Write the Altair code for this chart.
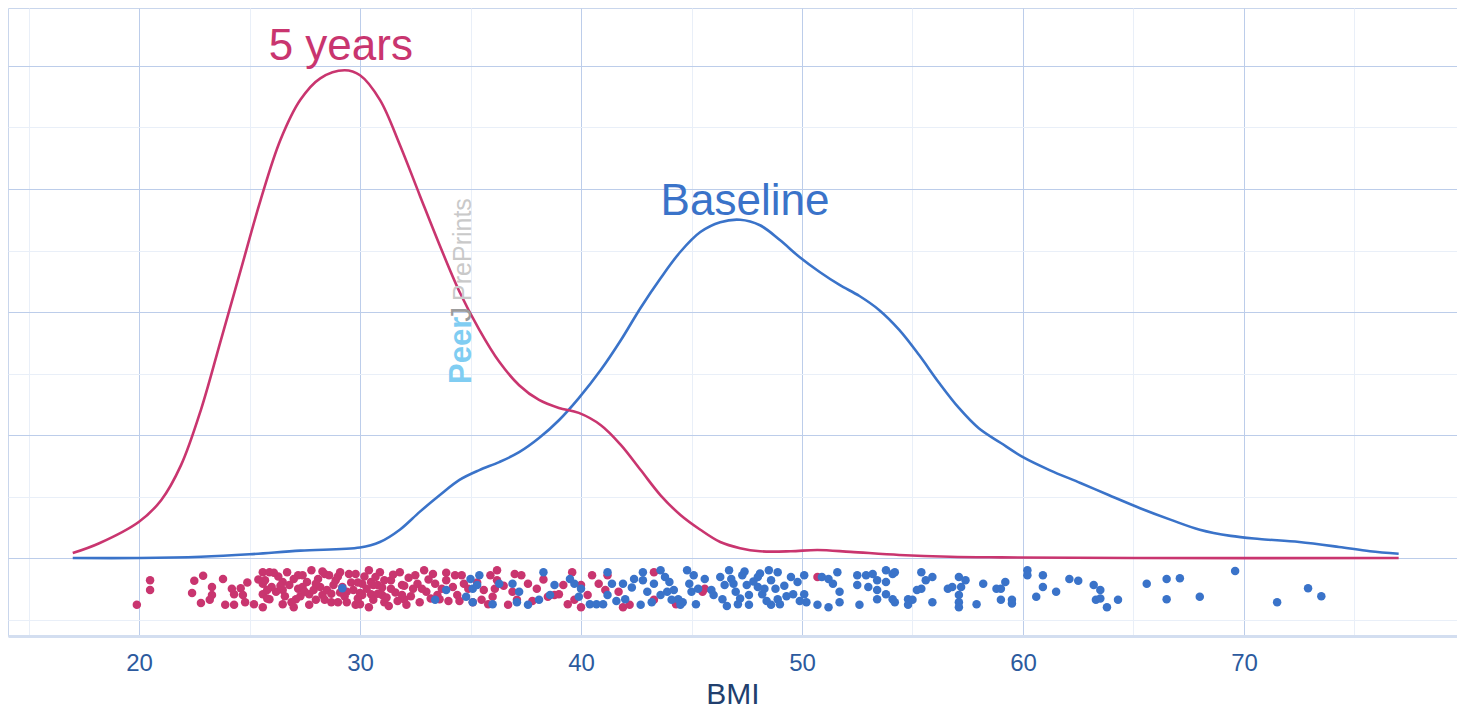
import altair as alt
import pandas as pd

RED = "#c9356f"
BLUE = "#3a73c9"
GRID_MAJ = "#bccdea"
GRID_MIN = "#e9eff8"
FONT = "Liberation Sans, Arial, sans-serif"

# ---- density curves (density in %) ----
curve_bmi_5y = [17.0, 18.2, 20.0, 21.0, 21.9, 22.8, 23.7, 24.6, 25.5, 26.4,
                27.3, 28.2, 29.3, 30.0, 30.9, 31.8, 32.7, 33.6, 34.5, 35.4,
                36.3, 37.2, 38.1, 39.0, 39.9, 40.9, 41.8, 42.7, 43.6, 44.5,
                45.4, 46.3, 47.2, 48.1, 49.5, 50.7, 52.2, 54.4, 56.7, 59.0,
                65.0, 77.0]
curve_den_5y = [0.08, 0.24, 0.59, 0.94, 1.51, 2.41, 3.54, 4.68, 5.82, 6.80,
                7.45, 7.80, 7.93, 7.85, 7.45, 6.72, 5.90, 5.09, 4.33, 3.71,
                3.19, 2.81, 2.57, 2.44, 2.36, 2.16, 1.84, 1.43, 1.02, 0.70,
                0.46, 0.26, 0.16, 0.11, 0.11, 0.13, 0.10, 0.05, 0.02, 0.01,
                0.0, 0.0]

curve_bmi_base = [17.0, 20.0, 22.8, 25.0, 27.3, 30.0, 30.9, 31.8, 32.7, 33.6,
                  34.5, 35.4, 36.3, 37.2, 38.1, 39.0, 39.9, 40.9, 41.8, 42.7,
                  43.6, 44.5, 45.4, 46.3, 47.2, 48.1, 49.0, 49.9, 50.8, 51.7,
                  52.6, 53.5, 54.4, 55.3, 56.2, 57.1, 58.0, 59.0, 60.0, 61.2,
                  62.6, 63.9, 65.3, 66.7, 68.0, 69.4, 70.7, 72.5, 74.3, 75.7,
                  77.0]
curve_den_base = [0.0, 0.0, 0.02, 0.06, 0.12, 0.17, 0.26, 0.46, 0.75, 1.02,
                  1.27, 1.43, 1.56, 1.72, 1.95, 2.24, 2.60, 3.06, 3.54, 4.07,
                  4.55, 4.98, 5.30, 5.46, 5.50, 5.41, 5.17, 4.89, 4.65, 4.44,
                  4.26, 4.03, 3.71, 3.30, 2.85, 2.44, 2.11, 1.87, 1.64, 1.43,
                  1.22, 1.02, 0.81, 0.62, 0.46, 0.36, 0.31, 0.26, 0.18, 0.11,
                  0.07]

# ---- individual observations: (BMI, vertical jitter) ----
points_5y = [
    (19.9, -0.76), (20.5, -0.36), (20.5, -0.52), (22.5, -0.37), (22.9, -0.29),
    (22.4, -0.57), (23.3, -0.47), (23.3, -0.60), (22.8, -0.73), (23.2, -0.68),
    (23.8, -0.34), (23.9, -0.76), (24.3, -0.76), (24.3, -0.59), (24.6, -0.49),
    (24.7, -0.60), (24.8, -0.72), (25.2, -0.75), (25.6, -0.80), (25.6, -0.59),
    (25.6, -0.42), (25.6, -0.23), (25.9, -0.23), (25.9, -0.67), (25.7, -0.36),
    (26.5, -0.39), (26.5, -0.52), (26.5, -0.75), (26.7, -0.23), (26.8, -0.44),
    (27.1, -0.67), (27.2, -0.28), (26.2, -0.55), (26.0, -0.47), (27.0, -0.34),
    (26.9, -0.72), (25.8, -0.52), (27.2, -0.50), (26.3, -0.30), (24.2, -0.50),
    (27.4, -0.28), (27.4, -0.47), (27.8, -0.20), (27.7, -0.59), (28.0, -0.68),
    (28.4, -0.26), (28.3, -0.60), (28.6, -0.28), (28.8, -0.44), (28.7, -0.72),
    (29.1, -0.23), (29.0, -0.72), (29.5, -0.26), (29.4, -0.55), (29.8, -0.26),
    (29.8, -0.76), (30.1, -0.42), (30.1, -0.60), (30.0, -0.75), (30.4, -0.20),
    (30.5, -0.39), (30.5, -0.59), (30.9, -0.23), (30.8, -0.44), (31.0, -0.60),
    (31.1, -0.72), (31.4, -0.50), (31.4, -0.36), (31.8, -0.23), (31.9, -0.44),
    (32.0, -0.67), (32.1, -0.76), (32.4, -0.50), (32.9, -0.20), (33.0, -0.55),
    (33.3, -0.26), (33.4, -0.42), (33.5, -0.60), (33.6, -0.67), (33.9, -0.36),
    (34.2, -0.47), (34.3, -0.28), (34.4, -0.60), (34.6, -0.28), (34.7, -0.42),
    (35.1, -0.72), (27.6, -0.39), (27.9, -0.52), (28.1, -0.34), (28.2, -0.47),
    (28.5, -0.52), (28.4, -0.68), (28.9, -0.36), (29.2, -0.47), (29.3, -0.62),
    (29.6, -0.40), (29.7, -0.52), (29.9, -0.66), (30.2, -0.30), (30.3, -0.50),
    (30.6, -0.68), (30.7, -0.31), (31.0, -0.48), (31.2, -0.64), (31.5, -0.27),
    (31.6, -0.56), (31.7, -0.70), (32.2, -0.32), (32.3, -0.62), (32.6, -0.42),
    (32.7, -0.72), (33.1, -0.35), (27.3, -0.62), (27.7, -0.76), (28.0, -0.42),
    (29.0, -0.30), (30.0, -0.57), (31.3, -0.78), (32.5, -0.28), (33.7, -0.50),
    (34.0, -0.70), (34.9, -0.50), (35.5, -0.68), (35.9, -0.28), (36.2, -0.20),
    (36.2, -0.36), (36.1, -0.50), (36.0, -0.63), (35.6, -0.52), (37.0, -0.26),
    (36.9, -0.55), (36.7, -0.76), (37.3, -0.28), (37.6, -0.42), (38.0, -0.50),
    (38.5, -0.63), (38.8, -0.60), (39.0, -0.59), (39.2, -0.44), (39.6, -0.23),
    (40.0, -0.44), (40.0, -0.80), (39.7, -0.68), (40.5, -0.28), (40.8, -0.42),
    (41.1, -0.52), (41.2, -0.28), (41.7, -0.55), (41.9, -0.80), (42.2, -0.76),
    (37.1, -0.68), (43.3, -0.23), (43.3, -0.68), (45.6, -0.50), (45.5, -0.55),
    (44.3, -0.75), (50.7, -0.31), (25.4, -0.35), (25.8, -0.66), (26.1, -0.24),
    (26.6, -0.62), (27.0, -0.80), (27.5, -0.55), (28.3, -0.22), (28.7, -0.58),
    (29.4, -0.72), (29.9, -0.40), (30.4, -0.80), (30.8, -0.58), (31.1, -0.36),
    (31.9, -0.60), (32.8, -0.50), (33.2, -0.66), (33.9, -0.24), (34.5, -0.70),
    (35.3, -0.40), (35.8, -0.75), (36.5, -0.45), (37.8, -0.70), (38.3, -0.35),
    (39.4, -0.75), (40.3, -0.60), (26.4, -0.45), (29.1, -0.56), (30.6, -0.44),
    (32.0, -0.45), (24.9, -0.40),
]

points_base = [
    (29.2, -0.49), (33.9, -0.52), (33.4, -0.68), (34.8, -0.63), (35.0, -0.34),
    (35.1, -0.50), (35.4, -0.28), (35.3, -0.44), (35.1, -0.72), (36.3, -0.42),
    (36.9, -0.42), (37.2, -0.55), (37.1, -0.72), (37.6, -0.76), (38.3, -0.23),
    (38.1, -0.68), (38.8, -0.44), (39.5, -0.34), (39.7, -0.42), (39.9, -0.63),
    (40.4, -0.75), (40.7, -0.75), (41.0, -0.75), (41.2, -0.23), (41.4, -0.42),
    (41.2, -0.60), (41.9, -0.42), (42.0, -0.67), (42.4, -0.34), (42.7, -0.76),
    (42.8, -0.23), (42.8, -0.36), (43.0, -0.55), (36.0, -0.75), (38.6, -0.60),
    (40.0, -0.50), (41.6, -0.70), (42.3, -0.48), (43.6, -0.20), (43.3, -0.42),
    (43.8, -0.31), (44.0, -0.39), (43.9, -0.55), (44.2, -0.52), (44.4, -0.67),
    (44.6, -0.72), (44.5, -0.76), (44.8, -0.20), (45.1, -0.28), (44.9, -0.42),
    (45.0, -0.55), (45.3, -0.50), (45.2, -0.75), (45.9, -0.52), (46.3, -0.31),
    (46.7, -0.20), (46.5, -0.44), (46.4, -0.67), (46.8, -0.34), (47.0, -0.55),
    (47.1, -0.75), (47.3, -0.28), (47.5, -0.44), (47.6, -0.60), (47.6, -0.76),
    (48.0, -0.31), (48.0, -0.47), (48.2, -0.59), (48.5, -0.20), (48.6, -0.36),
    (48.6, -0.76), (48.9, -0.23), (48.9, -0.67), (48.8, -0.50), (49.5, -0.31),
    (49.8, -0.39), (49.6, -0.59), (50.1, -0.28), (50.1, -0.59), (50.2, -0.72),
    (50.7, -0.76), (50.9, -0.31), (43.6, -0.60), (43.2, -0.72), (46.0, -0.60),
    (46.9, -0.42), (47.2, -0.66), (47.8, -0.38), (48.3, -0.50), (48.4, -0.70),
    (49.2, -0.45), (49.0, -0.75), (47.4, -0.22), (46.6, -0.78), (49.9, -0.70),
    (45.6, -0.34), (44.1, -0.68), (48.1, -0.25), (49.3, -0.62), (51.2, -0.34),
    (51.6, -0.23), (51.4, -0.42), (51.7, -0.55), (51.7, -0.72), (51.2, -0.80),
    (52.5, -0.28), (52.5, -0.44), (52.6, -0.76), (52.9, -0.28), (53.0, -0.47),
    (53.2, -0.26), (53.4, -0.36), (53.4, -0.52), (53.4, -0.67), (53.8, -0.20),
    (53.8, -0.39), (54.1, -0.26), (54.2, -0.23), (53.8, -0.59), (54.1, -0.67),
    (54.2, -0.72), (54.8, -0.67), (54.8, -0.76), (55.0, -0.68), (55.4, -0.23),
    (55.6, -0.36), (55.9, -0.31), (55.4, -0.50), (55.2, -0.52), (55.9, -0.72),
    (56.6, -0.50), (56.8, -0.47), (57.1, -0.31), (57.4, -0.36), (57.2, -0.47),
    (57.1, -0.60), (57.1, -0.72), (57.1, -0.80), (57.9, -0.75), (58.2, -0.42),
    (58.8, -0.50), (59.2, -0.39), (59.0, -0.68), (59.5, -0.68), (59.5, -0.74),
    (60.2, -0.20), (60.2, -0.28), (60.9, -0.28), (60.9, -0.47), (60.6, -0.63),
    (61.5, -0.55), (62.1, -0.34), (62.5, -0.37), (63.2, -0.44), (63.5, -0.52),
    (63.3, -0.68), (63.5, -0.66), (63.8, -0.80), (64.3, -0.68), (65.6, -0.42),
    (66.5, -0.34), (66.5, -0.67), (59.0, -0.50), (67.1, -0.33), (68.0, -0.63),
    (69.6, -0.21), (71.5, -0.72), (72.9, -0.49), (73.5, -0.62),
]

# ---- text annotations ----
label_text = ["5 years", "Baseline"]
label_bmi = [29.13, 47.42]
label_den = [8.10, 5.58]
label_color = [RED, BLUE]

wm_text = ["Peer", "J", "PrePrints"]
wm_bmi = [35.0, 35.0, 35.0]
wm_den = [2.83, 3.84, 4.18]
wm_color = ["#80cdf2", "#9c9c9c", "#c9c9c9"]
wm_weight = ["bold", "normal", "normal"]
wm_size = [31, 30, 25]

x_ticks = [15, 20, 25, 30, 35, 40, 45, 50, 55, 60, 65, 70, 75]
y_ticks = [-1, 0, 1, 2, 3, 4, 5, 6, 7, 8]

# ---- frames ----
curves = pd.concat([
    pd.DataFrame({"bmi": curve_bmi_base, "den": curve_den_base, "grp": "Baseline"}),
    pd.DataFrame({"bmi": curve_bmi_5y, "den": curve_den_5y, "grp": "5 years"}),
])
pts = pd.concat([
    pd.DataFrame({"bmi": [p[0] for p in points_5y], "den": [p[1] for p in points_5y], "grp": "5 years"}),
    pd.DataFrame({"bmi": [p[0] for p in points_base], "den": [p[1] for p in points_base], "grp": "Baseline"}),
])
labels = pd.DataFrame({"bmi": label_bmi, "den": label_den, "txt": label_text, "col": label_color})

xscale = alt.Scale(domain=[14.07, 79.64], nice=False, zero=False)
yscale = alt.Scale(domain=[-1.268, 8.943], nice=False, zero=False)

xaxis = alt.Axis(
    values=x_ticks,
    labelExpr="datum.value % 10 === 0 ? datum.label : ''",
    grid=True,
    gridColor={"condition": {"test": "datum.value % 10 === 0", "value": GRID_MAJ}, "value": GRID_MIN},
    gridWidth=1,
    ticks=False,
    domainColor="#d3def0",
    domainWidth=3,
    labelFont=FONT,
    labelFontSize=24,
    labelColor="#2c5a9e",
    labelPadding=15,
    title="BMI",
    titleFont=FONT,
    titleFontSize=30,
    titleFontWeight="normal",
    titleColor="#213f6e",
    titlePadding=4,
)
yaxis = alt.Axis(
    values=y_ticks,
    grid=True,
    gridColor={"condition": {"test": "datum.value % 2 === 0", "value": GRID_MAJ}, "value": GRID_MIN},
    gridWidth=1,
    labels=False,
    ticks=False,
    domain=False,
    title=None,
)

color_scale = alt.Scale(domain=["Baseline", "5 years"], range=[BLUE, RED])

lines = alt.Chart(curves).mark_line(strokeWidth=2.6, interpolate="catmull-rom").encode(
    x=alt.X("bmi:Q", scale=xscale, axis=xaxis),
    y=alt.Y("den:Q", scale=yscale, axis=yaxis),
    color=alt.Color("grp:N", scale=color_scale, legend=None),
    detail="grp:N",
    order=alt.Order("bmi:Q"),
)

dots = alt.Chart(pts).mark_circle(size=72, opacity=1).encode(
    x=alt.X("bmi:Q", scale=xscale),
    y=alt.Y("den:Q", scale=yscale),
    color=alt.Color("grp:N", scale=color_scale, legend=None),
    order=alt.Order("grp:N", sort="ascending"),
)

texts = alt.Chart(labels).mark_text(font=FONT, fontSize=44, align="center", baseline="alphabetic").encode(
    x=alt.X("bmi:Q", scale=xscale),
    y=alt.Y("den:Q", scale=yscale),
    text="txt:N",
    color=alt.Color("col:N", scale=None),
)

wm_layers = []
for t, b, d, c, w, s in zip(wm_text, wm_bmi, wm_den, wm_color, wm_weight, wm_size):
    wm_layers.append(
        alt.Chart(pd.DataFrame({"bmi": [b], "den": [d], "txt": [t]})).mark_text(
            font="Liberation Sans Narrow, Liberation Sans, Arial, sans-serif",
            fontSize=s, fontWeight=w, color=c, angle=270,
            align="left", baseline="alphabetic",
        ).encode(
            x=alt.X("bmi:Q", scale=xscale),
            y=alt.Y("den:Q", scale=yscale),
            text="txt:N",
        )
    )

chart = alt.layer(lines, dots, texts, *wm_layers).properties(
    width=1449, height=628, padding=0,
).configure_view(stroke="#c9d6ec", strokeWidth=1)

chart.save("out.html", embed_options={"renderer": "svg", "actions": False})
